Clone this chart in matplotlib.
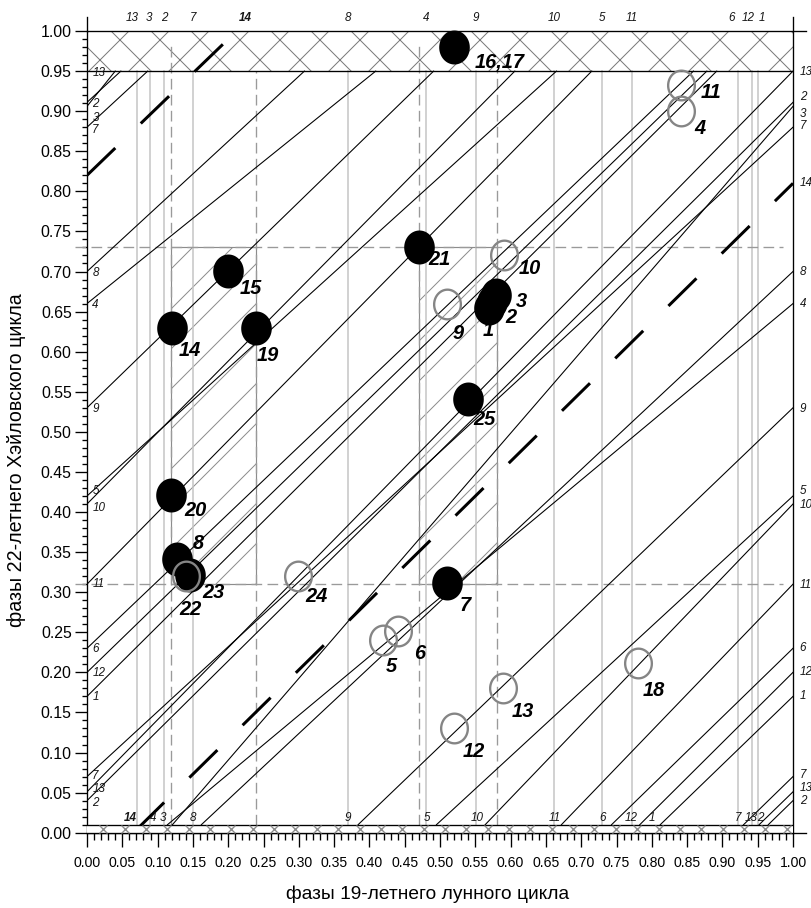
import numpy as np
import matplotlib
matplotlib.use('Agg')
import matplotlib.pyplot as plt
from matplotlib.patches import Rectangle
from matplotlib.path import Path
from matplotlib.ticker import FixedLocator, FormatStrFormatter
from matplotlib import font_manager

# ---------------- data ----------------
# thin trajectory segments (visible parts), numbered cycles
seg_x0 = [0.812, 0.000, 0.965, 0.000, 0.000, 0.121, 0.000, 0.114, 0.000, 0.495, 0.000,
          0.743, 0.000, 0.930, 0.000, 0.000, 0.162, 0.000, 0.384, 0.000, 0.564, 0.000,
          0.672, 0.000, 0.783, 0.000, 0.952, 0.000]
seg_y0 = [0.010, 0.170, 0.010, 0.040, 0.911, 0.010, 0.906, 0.010, 0.660, 0.010, 0.420,
          0.010, 0.230, 0.010, 0.070, 0.880, 0.010, 0.700, 0.010, 0.530, 0.010, 0.410,
          0.010, 0.310, 0.010, 0.200, 0.010, 0.051]
seg_x1 = [1.000, 0.892, 1.000, 1.000, 0.048, 1.000, 0.040, 1.000, 0.409, 1.000, 0.665,
          1.000, 0.859, 1.000, 1.000, 0.086, 1.000, 0.308, 1.000, 0.491, 1.000, 0.606,
          1.000, 0.715, 1.000, 0.878, 1.000, 1.000]
seg_y1 = [0.170, 0.950, 0.040, 0.911, 0.950, 0.906, 0.950, 0.660, 0.950, 0.420, 0.950,
          0.230, 0.950, 0.070, 0.880, 0.950, 0.700, 0.950, 0.530, 0.950, 0.410, 0.950,
          0.310, 0.950, 0.200, 0.950, 0.051, 0.950]

# bold dashed line 14
bold_x0 = [0.0696, 0.000]
bold_y0 = [0.0033, 0.820]
bold_x1 = [1.000, 0.212]
bold_y1 = [0.810, 1.000]

# vertical transition lines
vline_x = [0.0713, 0.0892, 0.1095, 0.1497, 0.370, 0.480, 0.551, 0.662, 0.730, 0.772,
           0.9217, 0.9415, 0.951]

# line labels
top_lbl = ['13', '3', '2', '7', '14', '8', '4', '9', '10', '5', '11', '6', '12', '1']
top_lbl_x = [0.0647, 0.0883, 0.1095, 0.1497, 0.2248, 0.370, 0.480, 0.551, 0.662, 0.730,
             0.7715, 0.913, 0.937, 0.9557]
bot_lbl = ['14', '4', '3', '8', '9', '5', '10', '11', '6', '12', '1', '7', '13', '2']
bot_lbl_x = [0.061, 0.094, 0.108, 0.1506, 0.370, 0.481, 0.552, 0.663, 0.730, 0.7715,
             0.800, 0.9226, 0.941, 0.953]
left_lbl = ['13', '2', '3', '7', '8', '4', '9', '5', '10', '11', '6', '12', '1', '7', '13', '2']
left_lbl_y = [0.948, 0.909, 0.892, 0.877, 0.6985, 0.658, 0.528, 0.426, 0.405, 0.310,
              0.2288, 0.199, 0.169, 0.0705, 0.0545, 0.0375]
right_lbl = ['13', '2', '3', '7', '14', '8', '4', '9', '5', '10', '11', '6', '12', '1', '7', '13', '2']
right_lbl_y = [0.949, 0.918, 0.897, 0.881, 0.811, 0.700, 0.660, 0.529, 0.426, 0.409, 0.309,
               0.230, 0.200, 0.170, 0.072, 0.0555, 0.039]

# events
filled_lbl = ['16,17', '21', '15', '14', '19', '1', '2', '3', '25', '20', '8', '23', '7']
filled_x = [0.520, 0.470, 0.200, 0.120, 0.2394, 0.570, 0.574, 0.579, 0.540, 0.119, 0.128, 0.146, 0.5095]
filled_y = [0.980, 0.731, 0.7006, 0.630, 0.630, 0.655, 0.662, 0.671, 0.541, 0.421, 0.342, 0.321, 0.311]
filled_off = [(46, 15), (21, 13), (23, 17), (18, 23), (12, 28), (-1, 23), (19, 16), (26, 7),
              (16, 21), (24, 15), (21, -15), (23, 17), (18, 22)]

open_lbl = ['11', '4', '10', '9', '22', '24', '5', '6', '12', '13', '18']
open_x = [0.841, 0.841, 0.5907, 0.5104, 0.140, 0.2993, 0.4197, 0.440, 0.5203, 0.5897, 0.781]
open_y = [0.9326, 0.9006, 0.7206, 0.660, 0.3206, 0.3206, 0.2404, 0.2516, 0.131, 0.181, 0.2113]
open_off = [(30, 7), (19, 18), (26, 14), (11, 30), (5, 34), (18, 21), (8, 27), (22, 23),
            (19, 24), (19, 24), (15, 27)]

# zones
zone_x0 = [0.1195, 0.4703]
zone_x1 = [0.2394, 0.5803]
zone_y0 = 0.31
zone_y1 = 0.73
dash_vx = [0.1195, 0.2394, 0.4703, 0.5803]
dash_vtop = [0.985, 0.95, 0.985, 0.95]
band_top = (0.95, 1.00)
band_bot = (0.00, 0.01)

x_ticks = [round(0.05 * i, 2) for i in range(21)]
y_ticks = [round(0.05 * i, 2) for i in range(21)]
minor_ticks = [round(0.01 * i, 2) for i in range(101)]

# ---------------- figure ----------------
DPI = 120
W, H = 811, 908
plt.rcParams['hatch.linewidth'] = 0.6


def has_font(name):
    try:
        font_manager.findfont(font_manager.FontProperties(family=name), fallback_to_default=False)
        return True
    except Exception:
        return False


SANS = 'Liberation Sans'
NARROW = 'Liberation Sans Narrow' if has_font('Liberation Sans Narrow') else None

fig = plt.figure(figsize=(W / DPI, H / DPI), dpi=DPI)
X0, X1, Y0, Y1 = 87, 793, 832.7, 17
ax = fig.add_axes([X0 / W, 1 - Y0 / H, (X1 - X0) / W, (Y0 - Y1) / H])
ax.set_xlim(0, 1)
ax.set_ylim(0, (Y0 - Y1) / 801.7)

for s in ['left', 'right', 'bottom']:
    ax.spines[s].set_linewidth(0.8)
ax.spines['top'].set_visible(False)

ax.xaxis.set_major_locator(FixedLocator(x_ticks))
ax.yaxis.set_major_locator(FixedLocator(y_ticks))
ax.xaxis.set_minor_locator(FixedLocator(minor_ticks))
ax.yaxis.set_minor_locator(FixedLocator(minor_ticks))
ax.xaxis.set_major_formatter(FormatStrFormatter('%.2f'))
ax.yaxis.set_major_formatter(FormatStrFormatter('%.2f'))
ax.tick_params(axis='x', which='major', direction='out', length=8.4, width=0.8, pad=5.5)
ax.tick_params(axis='x', which='minor', direction='out', length=4.2, width=0.8)
ax.tick_params(axis='y', which='major', direction='out', length=7.2, width=0.8, pad=2)
ax.tick_params(axis='y', which='minor', direction='out', length=3.3, width=0.8)
for lab in ax.get_yticklabels():
    lab.set_fontfamily(SANS)
    lab.set_fontsize(9.5)
for lab in ax.get_xticklabels():
    if NARROW:
        lab.set_fontfamily(NARROW)
        lab.set_fontsize(9.5)
    else:
        lab.set_fontfamily(SANS)
        lab.set_fontsize(8.4)

# zones (hatched)
for a, b in zip(zone_x0, zone_x1):
    ax.add_patch(Rectangle((a, zone_y0), b - a, zone_y1 - zone_y0, facecolor='none',
                           edgecolor='#8c8c8c', hatch='/', lw=0.7, zorder=1))
# dashed guides
for yv in [zone_y0, zone_y1]:
    ax.plot([-0.017, 0.986], [yv, yv], color='#9a9a9a', lw=0.8, ls=(0, (8, 4)),
            clip_on=False, zorder=1.6)
for xv, yt in zip(dash_vx, dash_vtop):
    ax.plot([xv, xv], [0.01, yt], color='#9a9a9a', lw=0.8, ls=(0, (8, 4)), zorder=1.6)

# vertical transition lines
for xv in vline_x:
    ax.plot([xv, xv], [0.01, 0.95], color='#c4c4c4', lw=0.9, zorder=1.5)

# thin trajectories
for a, b, c, d in zip(seg_x0, seg_y0, seg_x1, seg_y1):
    ax.plot([a, c], [b, d], color='black', lw=0.65, zorder=2)

# bold dashed 14
for a, b, c, d in zip(bold_x0, bold_y0, bold_x1, bold_y1):
    ax.plot([a, c], [b, d], color='black', lw=1.8, ls=(0, (13.1, 11.8)),
            solid_capstyle='butt', dash_capstyle='butt', zorder=3)

# top band
ax.add_patch(Rectangle((0, band_top[0]), 1, band_top[1] - band_top[0], facecolor='none',
                       edgecolor='#7a7a7a', hatch='x', lw=0, zorder=1.2))
ax.plot([0, 1], [band_top[0], band_top[0]], color='black', lw=0.8, zorder=3.5)
ax.plot([0, 1.018], [band_top[1], band_top[1]], color='black', lw=0.8, clip_on=False, zorder=3.5)
# bottom band
ax.add_patch(Rectangle((0, band_bot[0]), 1, band_bot[1] - band_bot[0], facecolor='white',
                       edgecolor='none', zorder=4))
ax.plot([0, 1], [band_bot[1], band_bot[1]], color='black', lw=0.8, zorder=4.5)
ax.plot([0, 1.018], [0, 0], color='black', lw=0.8, clip_on=False, zorder=4.5)
band_marks = np.arange(0.023, 0.995, 0.03025)
ax.plot(band_marks, np.full(band_marks.shape, 0.005), ls='none', marker='x',
        color='#8a8a8a', ms=4.6, mew=0.8, zorder=4.6, clip_on=False)

# line labels
lab_kw = dict(fontfamily=SANS, fontstyle='italic', fontsize=7, color='#151515', zorder=6)
for t, xv in zip(top_lbl, top_lbl_x):
    ax.text(xv, 1.016, t, ha='center', va='center', clip_on=False,
            fontweight='bold' if t == '14' else 'normal', **lab_kw)
for t, xv in zip(bot_lbl, bot_lbl_x):
    ax.text(xv, 0.0105, t, ha='center', va='bottom',
            fontweight='bold' if t == '14' else 'normal', **lab_kw)
for t, yv in zip(left_lbl, left_lbl_y):
    ax.text(0.0075, yv, t, ha='left', va='center', **lab_kw)
for t, yv in zip(right_lbl, right_lbl_y):
    ax.text(1.0095, yv, t, ha='left', va='center', clip_on=False, **lab_kw)

# event markers: slightly tall ellipse
th = np.linspace(0, 2 * np.pi, 60)
ell = Path(np.column_stack([0.45 * np.cos(th), 0.5 * np.sin(th)]), closed=True)
ax.plot(filled_x, filled_y, ls='none', marker=ell, ms=20.4, mfc='black', mec='black',
        mew=0, zorder=7)
ax.plot(open_x, open_y, ls='none', marker=ell, ms=17.8, mfc='none', mec='#858585',
        mew=1.4, zorder=7.5)

pt_kw = dict(fontfamily=SANS, fontstyle='italic', fontweight='bold', fontsize=12,
             color='black', ha='center', va='center', zorder=8,
             textcoords='offset pixels', annotation_clip=False)
for t, xv, yv, (dx, dy) in zip(filled_lbl, filled_x, filled_y, filled_off):
    ax.annotate(t, (xv, yv), xytext=(dx, -dy), **pt_kw)
for t, xv, yv, (dx, dy) in zip(open_lbl, open_x, open_y, open_off):
    ax.annotate(t, (xv, yv), xytext=(dx, -dy), **pt_kw)

# axis titles
fig.text(428 / W, 1 - 894 / H, 'фазы 19-летнего лунного цикла', ha='center', va='center',
         fontfamily=SANS, fontsize=11.5)
fig.text(17 / W, 1 - 460 / H, 'фазы 22-летнего Хэйловского цикла', ha='center', va='center',
         rotation=90, fontfamily=SANS, fontsize=11.8)

fig.savefig('out.png', dpi=DPI)
